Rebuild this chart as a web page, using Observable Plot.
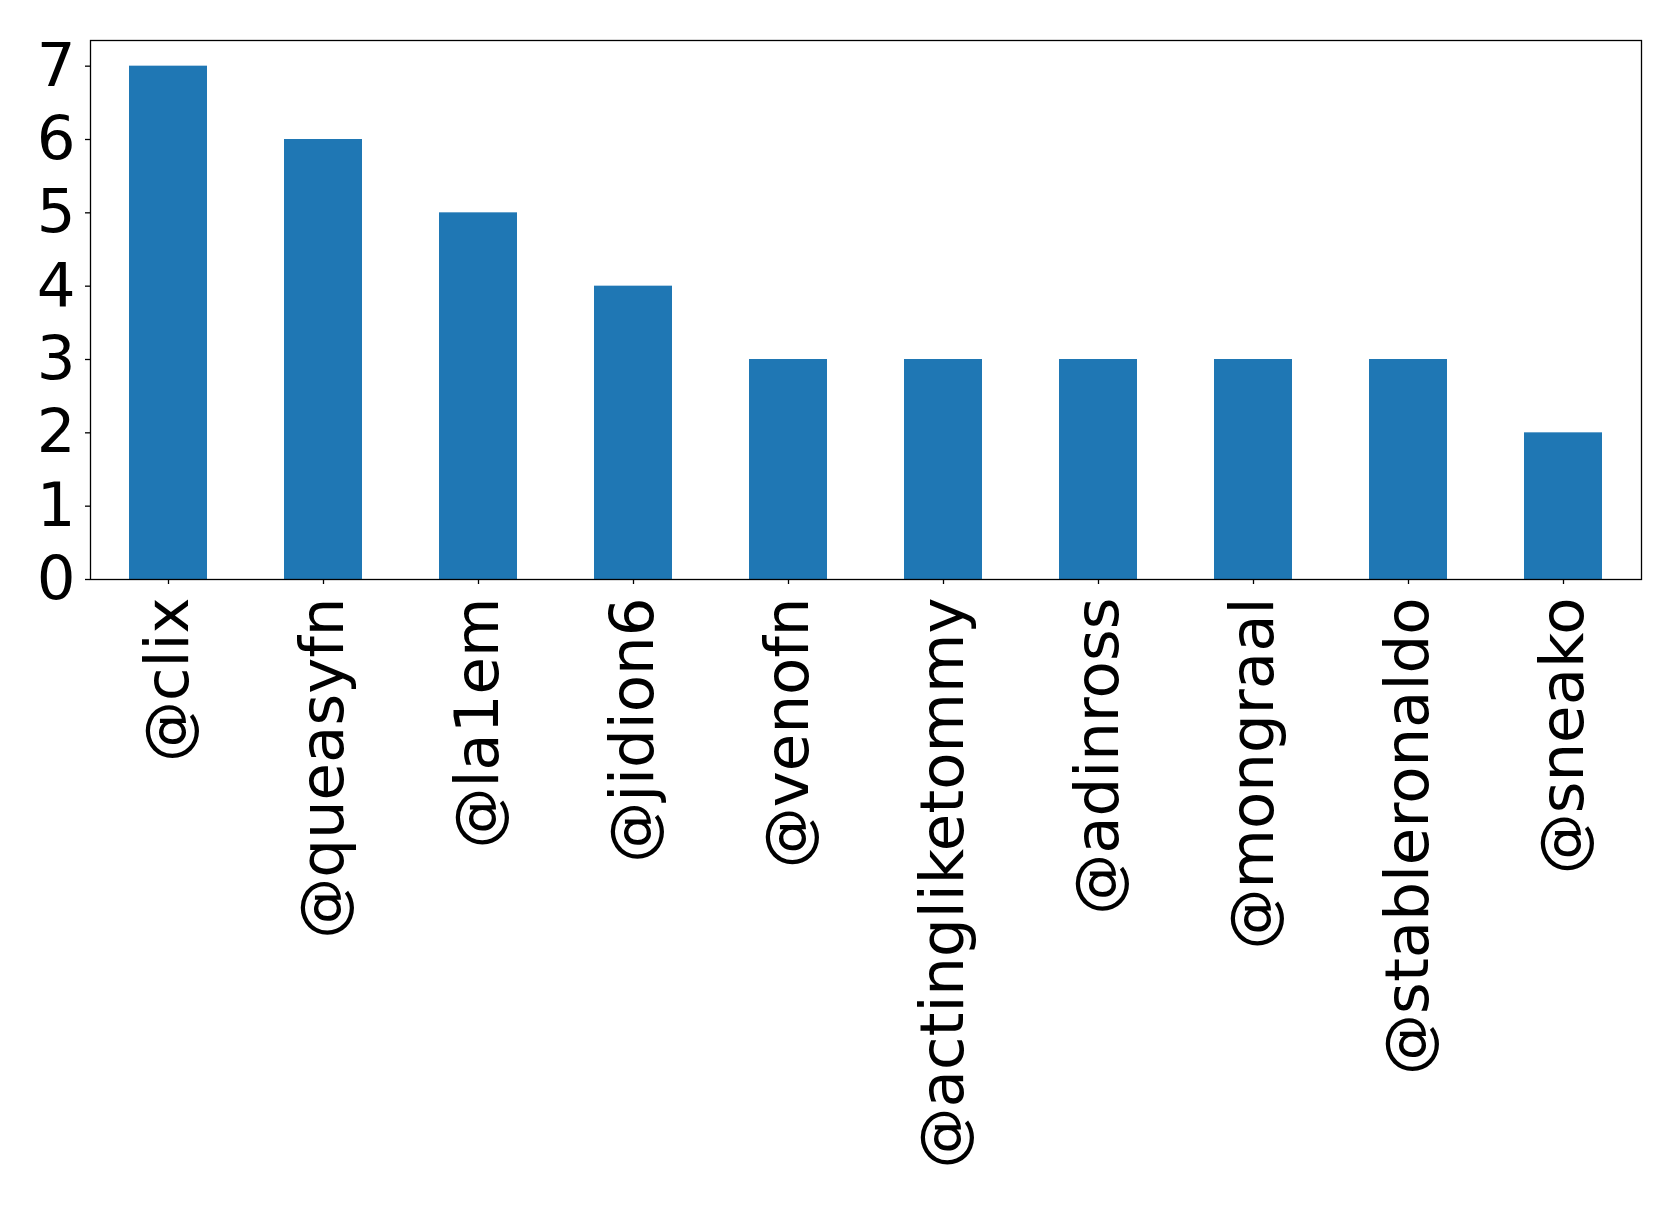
<!DOCTYPE html>
<html>
<head>
<meta charset="utf-8">
<script src="https://cdn.jsdelivr.net/npm/d3@7"></script>
<script src="https://cdn.jsdelivr.net/npm/@observablehq/plot@0.6"></script>
<style>
  html, body { margin: 0; padding: 0; background: #fff; }
  #chart svg { display: block; }
</style>
</head>
<body>
<div id="chart"></div>
<script>
const accounts = ["@clix", "@queasyfn", "@la1em", "@jidion6", "@venofn", "@actingliketommy", "@adinross", "@mongraal", "@stableronaldo", "@sneako"];
const counts = [7, 6, 5, 4, 3, 3, 3, 3, 3, 2];
const yTicks = [0, 1, 2, 3, 4, 5, 6, 7];

const data = accounts.map((a, i) => ({account: a, count: counts[i]}));

const chart = Plot.plot({
  width: 1679,
  height: 1213,
  marginTop: 40,
  marginLeft: 90,
  marginRight: 38,
  marginBottom: 634,
  style: {fontFamily: "DejaVu Sans", fontSize: "61px", color: "#000", background: "#fff"},
  x: {domain: accounts, paddingInner: 0.5, paddingOuter: 0.25, label: null},
  y: {domain: [0, 7.35], label: null},
  marks: [
    Plot.barY(data, {x: "account", y: "count", fill: "#1f77b4"}),
    Plot.frame({stroke: "#000", strokeWidth: 1.3}),
    Plot.axisY({ticks: yTicks, tickFormat: d => String(d), tickSize: 5, tickPadding: 10, fontSize: 61, label: null, stroke: "#000", strokeWidth: 1.3}),
    Plot.axisX({tickRotate: -90, tickSize: 5, tickPadding: 13, fontSize: 61, label: null, stroke: "#000", strokeWidth: 1.3})
  ]
});
document.getElementById("chart").appendChild(chart);
</script>
</body>
</html>
